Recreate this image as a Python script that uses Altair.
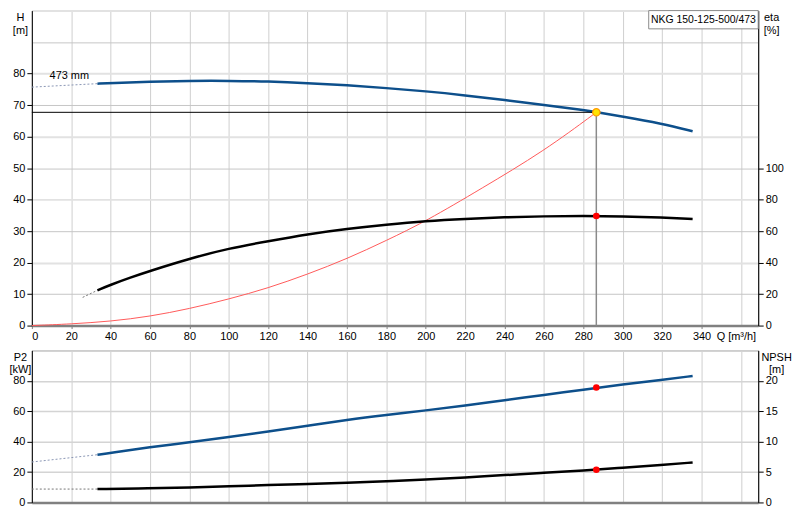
import altair as alt
import pandas as pd

FONT = "Liberation Sans"
BLUE = "#0d4f8b"
RED_LINE = "#ff5a5a"

# ---------------- data (Q in m³/h) ----------------
H_DASH_Q = [0, 33.3]
H_DASH = [75.7, 76.8]
H_Q = [33.3, 40, 60, 80, 100, 120, 140, 160, 180, 200, 220, 240, 260, 280, 286.6, 300, 320, 335.5]
H_VAL = [76.8, 77.0, 77.4, 77.7, 77.7, 77.5, 77.0, 76.3, 75.4, 74.4, 73.1, 71.6, 70.0, 68.5, 67.7, 66.4, 64.1, 61.7]

ETA_DASH_Q = [25.8, 33.3]
ETA_DASH = [17.9, 22.4]
ETA_Q = [33.3, 40, 50, 60, 80, 100, 120, 140, 160, 180, 200, 220, 240, 260, 280, 300, 320, 335.5]
ETA = [22.4, 25.9, 30.5, 34.7, 42.5, 49.0, 53.6, 58.0, 61.4, 64.1, 66.4, 67.8, 68.8, 69.4, 69.6, 69.4, 68.6, 67.6]

SYS_Q = [0, 20, 40, 60, 80, 100, 120, 140, 160, 180, 200, 228, 260, 286.6]
SYS_H = [0, 0.5, 1.35, 2.9, 5.35, 8.4, 11.9, 16.3, 21.2, 27.0, 33.1, 43.4, 55.4, 67.7]

P2_DASH_Q = [0, 33.3]
P2_DASH = [26.6, 31.4]
P2_Q = [33.3, 40, 60, 80, 100, 120, 140, 160, 180, 200, 220, 240, 260, 280, 300, 320, 335.5]
P2 = [31.4, 32.5, 36.4, 39.5, 43.0, 46.7, 50.5, 54.4, 57.6, 60.5, 63.8, 67.3, 70.7, 74.2, 77.6, 80.6, 83.2]

NPSH_DASH_Q = [0, 33.3]
NPSH_DASH = [2.2, 2.2]
NPSH_Q = [33.3, 60, 80, 100, 120, 140, 160, 180, 200, 220, 240, 260, 280, 300, 320, 335.5]
NPSH = [2.2, 2.33, 2.47, 2.65, 2.86, 3.04, 3.24, 3.5, 3.73, 4.11, 4.5, 4.88, 5.26, 5.71, 6.15, 6.58]

DUTY_Q = [286.6]
DUTY_H = [67.7]
DUTY_ETA = [69.6]
DUTY_P2 = [75.6]
DUTY_NPSH = [5.38]

Q_TICKS = list(range(0, 361, 20))
H_TICKS = list(range(0, 101, 10))
ETA_TICKS = list(range(0, 101, 20))
P2_TICKS = list(range(0, 101, 20))
NPSH_TICKS = list(range(0, 21, 5))

PUMP_LABEL = "NKG 150-125-500/473"
DIAM_LABEL = "473 mm"

Q_MAX = 368.8
W = 731
H_TOP = 317
H_BOT = 153
SMOOTH = "basis"

qscale = alt.Scale(domain=[0, Q_MAX], nice=False, zero=False)
hscale = alt.Scale(domain=[0, 100], nice=False)
etascale = alt.Scale(domain=[0, 200], nice=False)
p2scale = alt.Scale(domain=[0, 100], nice=False)
npshscale = alt.Scale(domain=[0, 25], nice=False)


def df(q, v):
    return pd.DataFrame({"Q": q, "v": v})


ax_common = dict(labelFont=FONT, labelFontSize=11, labelColor="#000", titleFont=FONT,
                 titleFontSize=11, titleFontWeight="normal", titleColor="#000")

# ---------------- axes ----------------
xtop_axis = alt.Axis(values=Q_TICKS, grid=True, gridColor="#cfcfcf", gridWidth=1,
                     domainColor="#808080", domainWidth=2.5, tickColor="#808080",
                     tickSize=3, labelPadding=2,
                     labelExpr="datum.value == 360 ? 'Q [m³/h]' : datum.label",
                     labelOffset={"condition": {"test": "datum.value == 360", "value": -5}, "value": 0},
                     tickOpacity={"condition": {"test": "datum.value == 360", "value": 0}, "value": 1},
                     title=None, **ax_common)
xbot_axis = alt.Axis(values=Q_TICKS, grid=True, gridColor="#cfcfcf", gridWidth=1, labels=False,
                     ticks=False, domainColor="#808080", domainWidth=2.5, title=None, **ax_common)

h_axis = alt.Axis(values=H_TICKS, grid=True,
                  gridColor={"condition": {"test": "datum.value % 20 == 0", "value": "#e2e2e2"}, "value": "#c6c6c6"},
                  gridWidth={"condition": {"test": "datum.value % 20 == 0", "value": 2}, "value": 1},
                  domainColor="#000", tickColor="#000", tickSize=5, labelPadding=2,
                  labelExpr="datum.value > 80 ? '' : datum.label",
                  tickOpacity={"condition": {"test": "datum.value > 80", "value": 0}, "value": 1},
                  title=["H", "[m]"], titleAngle=0, titleX=-12, titleY=1, titleAlign="center",
                  titleBaseline="top", titleLineHeight=13, **ax_common)
eta_axis = alt.Axis(values=ETA_TICKS, grid=False, orient="right", domainColor="#000", tickColor="#000",
                    tickSize=5, labelPadding=2,
                    title=["eta", "[%]"], titleAngle=0, titleX=13, titleY=1, titleAlign="center",
                    titleBaseline="top", titleLineHeight=13, **ax_common)
p2_axis = alt.Axis(values=P2_TICKS, grid=True, gridColor="#d4d4d4", gridWidth=1.5,
                   domainColor="#000", tickColor="#000", tickSize=5, labelPadding=2,
                   labelExpr="datum.value > 80 ? '' : datum.label",
                   tickOpacity={"condition": {"test": "datum.value > 80", "value": 0}, "value": 1},
                   title=["P2", "[kW]"], titleAngle=0, titleX=-12, titleY=1, titleAlign="center",
                   titleBaseline="top", titleLineHeight=12, **ax_common)
npsh_axis = alt.Axis(values=NPSH_TICKS, grid=False, orient="right", domainColor="#000", tickColor="#000",
                     tickSize=5, labelPadding=2,
                     title=["NPSH", "[m]"], titleAngle=0, titleX=18, titleY=1, titleAlign="center",
                     titleBaseline="top", titleLineHeight=12, **ax_common)


def XT(f="Q"):
    return alt.X(f"{f}:Q", scale=qscale, axis=xtop_axis)


def XB(f="Q"):
    return alt.X(f"{f}:Q", scale=qscale, axis=xbot_axis)


def YH(f="v"):
    return alt.Y(f"{f}:Q", scale=hscale, axis=h_axis)


def YE(f="v"):
    return alt.Y(f"{f}:Q", scale=etascale, axis=eta_axis)


def YP(f="v"):
    return alt.Y(f"{f}:Q", scale=p2scale, axis=p2_axis)


def YN(f="v"):
    return alt.Y(f"{f}:Q", scale=npshscale, axis=npsh_axis)


# ---------------- top panel ----------------
h_dash = alt.Chart(df(H_DASH_Q, H_DASH)).mark_line(color="#8a96b4", strokeWidth=1, strokeDash=[2, 2]).encode(
    x=XT(), y=YH())
h_line = alt.Chart(df(H_Q, H_VAL)).mark_line(color=BLUE, strokeWidth=2.5, interpolate=SMOOTH).encode(
    x=XT(), y=YH())
sys_line = alt.Chart(df(SYS_Q, SYS_H)).mark_line(color=RED_LINE, strokeWidth=1, interpolate=SMOOTH).encode(
    x=XT(), y=YH())
duty_df = pd.DataFrame({"Q": DUTY_Q, "H": DUTY_H, "z": [0]})
hrule = alt.Chart(duty_df).mark_rule(color="#000", strokeWidth=1).encode(
    x=XT("z"), x2="Q:Q", y=YH("H"))
vrule = alt.Chart(duty_df).mark_rule(color="#8a8a8a", strokeWidth=1.5).encode(
    x=XT("Q"), y=YH("z"), y2="H:Q")
duty_pt = alt.Chart(duty_df).mark_point(filled=True, fill="#ffe400", stroke="#ff9a00", strokeWidth=1.2,
                                        size=55, opacity=1, shape="circle").encode(
    x=XT("Q"), y=YH("H"))
diam_txt = alt.Chart(pd.DataFrame({"Q": [9], "H": [79.1], "t": [DIAM_LABEL]})).mark_text(
    font=FONT, fontSize=11, align="left", baseline="middle", color="#000").encode(
    x=XT("Q"), y=YH("H"), text="t:N")
box_df = pd.DataFrame({"q1": [313.2], "q2": [Q_MAX], "h1": [94.2], "h2": [100],
                       "qc": [341], "hc": [97.1], "t": [PUMP_LABEL]})
box = alt.Chart(box_df).mark_rect(fill="#fff", stroke="#8a8a8a", strokeWidth=1).encode(
    x=XT("q1"), x2="q2:Q", y=YH("h1"), y2="h2:Q")
box_txt = alt.Chart(box_df).mark_text(font=FONT, fontSize=10.5, color="#000", baseline="middle").encode(
    x=XT("qc"), y=YH("hc"), text="t:N")

h_layers = alt.layer(h_dash, sys_line, h_line, hrule, vrule, diam_txt, box, box_txt, duty_pt)

eta_dash = alt.Chart(df(ETA_DASH_Q, ETA_DASH)).mark_line(color="#777", strokeWidth=1, strokeDash=[2, 2]).encode(
    x=XT(), y=YE())
eta_line = alt.Chart(df(ETA_Q, ETA)).mark_line(color="#000", strokeWidth=2.5, interpolate=SMOOTH).encode(
    x=XT(), y=YE())
eta_pt = alt.Chart(df(DUTY_Q, DUTY_ETA)).mark_point(filled=True, color="#ff0000", size=45, opacity=1).encode(
    x=XT(), y=YE())
eta_layers = alt.layer(eta_dash, eta_line, eta_pt)

top = alt.layer(h_layers, eta_layers).resolve_scale(y="independent").properties(width=W, height=H_TOP)

# ---------------- bottom panel ----------------
p2_dash = alt.Chart(df(P2_DASH_Q, P2_DASH)).mark_line(color="#8a96b4", strokeWidth=1, strokeDash=[2, 2]).encode(
    x=XB(), y=YP())
p2_line = alt.Chart(df(P2_Q, P2)).mark_line(color=BLUE, strokeWidth=2.5, interpolate=SMOOTH).encode(
    x=XB(), y=YP())
p2_pt = alt.Chart(df(DUTY_Q, DUTY_P2)).mark_point(filled=True, color="#ff0000", size=45, opacity=1).encode(
    x=XB(), y=YP())
p2_layers = alt.layer(p2_dash, p2_line, p2_pt)

npsh_dash = alt.Chart(df(NPSH_DASH_Q, NPSH_DASH)).mark_line(color="#777", strokeWidth=1, strokeDash=[2, 2]).encode(
    x=XB(), y=YN())
npsh_line = alt.Chart(df(NPSH_Q, NPSH)).mark_line(color="#000", strokeWidth=2.5, interpolate=SMOOTH).encode(
    x=XB(), y=YN())
npsh_pt = alt.Chart(df(DUTY_Q, DUTY_NPSH)).mark_point(filled=True, color="#ff0000", size=45, opacity=1).encode(
    x=XB(), y=YN())
npsh_layers = alt.layer(npsh_dash, npsh_line, npsh_pt)

bottom = alt.layer(p2_layers, npsh_layers).resolve_scale(y="independent").properties(width=W, height=H_BOT)

chart = alt.vconcat(top, bottom, spacing=25, bounds="flush").properties(
    padding=0, background="#ffffff"
).configure_view(stroke="#8a8a8a", strokeWidth=1)

chart.save("out.html", embed_options={"renderer": "svg", "actions": False})
